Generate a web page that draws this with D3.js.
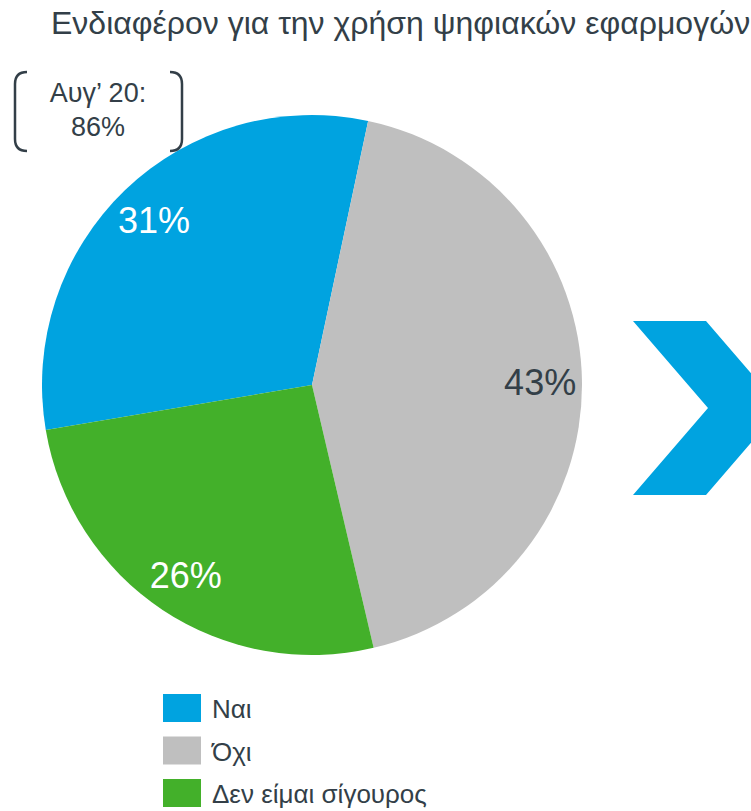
<!DOCTYPE html>
<html>
<head>
<meta charset="utf-8">
<script src="https://cdn.jsdelivr.net/npm/d3@7"></script>
<style>
  body { margin: 0; background: #fff; }
  text { font-family: "Liberation Sans", Arial, sans-serif; }
</style>
</head>
<body>
<svg id="chart"></svg>
<script>
const WIDTH = 751;
const HEIGHT = 811;

// Data.
const categories = ['Ναι', 'Όχι', 'Δεν είμαι σίγουρος'];
const values = [31, 43, 26];
const colors = ['#00a3e0', '#bfbfbf', '#43b02a'];
const labelColors = ['#ffffff', '#333f48', '#ffffff'];
const title = 'Ενδιαφέρον για την χρήση ψηφιακών εφαρμογών';
const noteLines = ['Αυγ’ 20:', '86%'];

const TEXT_COLOR = '#333f48';
const CX = 312;
const CY = 385;
const RADIUS = 270;

const svg = d3
  .select('#chart')
  .attr('width', WIDTH)
  .attr('height', HEIGHT)
  .attr('viewBox', `0 0 ${WIDTH} ${HEIGHT}`);

// Title.
svg
  .append('text')
  .attr('x', 51)
  .attr('y', 34)
  .attr('fill', TEXT_COLOR)
  .style('font-size', '32px')
  .text(title);

// Pie. The blue slice starts a bit left of nine o'clock.
const startAngle = (-99.6 * Math.PI) / 180;
const pie = d3
  .pie()
  .sort(null)
  .startAngle(startAngle)
  .endAngle(startAngle + 2 * Math.PI);

const arcs = pie(values);
const arc = d3.arc().innerRadius(0).outerRadius(RADIUS);
const labelArc = d3.arc().innerRadius(RADIUS * 0.845).outerRadius(RADIUS * 0.845);

const g = svg.append('g').attr('transform', `translate(${CX},${CY})`);

g.selectAll('path')
  .data(arcs)
  .enter()
  .append('path')
  .attr('d', arc)
  .attr('fill', (d, i) => colors[i]);

g.selectAll('text.pct')
  .data(arcs)
  .enter()
  .append('text')
  .attr('class', 'pct')
  .attr('transform', d => `translate(${labelArc.centroid(d)})`)
  .attr('text-anchor', 'middle')
  .attr('dy', '0.35em')
  .attr('fill', (d, i) => labelColors[i])
  .style('font-size', '36px')
  .text(d => d.data + '%');

// Bracketed note in the top-left corner.
const note = svg.append('g');
const bracket = d3.path();
// left bracket
bracket.moveTo(27, 72);
bracket.quadraticCurveTo(15, 72, 15, 84);
bracket.lineTo(15, 139);
bracket.quadraticCurveTo(15, 151, 27, 151);
// right bracket
bracket.moveTo(170, 72);
bracket.quadraticCurveTo(182, 72, 182, 84);
bracket.lineTo(182, 139);
bracket.quadraticCurveTo(182, 151, 170, 151);
note
  .append('path')
  .attr('d', bracket.toString())
  .attr('fill', 'none')
  .attr('stroke', TEXT_COLOR)
  .attr('stroke-width', 2.5);

note
  .selectAll('text')
  .data(noteLines)
  .enter()
  .append('text')
  .attr('x', 98)
  .attr('y', (d, i) => 102 + i * 34)
  .attr('text-anchor', 'middle')
  .attr('fill', TEXT_COLOR)
  .style('font-size', '27px')
  .text(d => d);

// Chevron on the right, cut off by the page edge.
const chevron = d3.path();
chevron.moveTo(633, 321);
chevron.lineTo(706, 321);
chevron.lineTo(781, 408);
chevron.lineTo(706, 495);
chevron.lineTo(633, 495);
chevron.lineTo(708, 408);
chevron.closePath();
svg.append('path').attr('d', chevron.toString()).attr('fill', colors[0]);

// Legend.
const legend = svg
  .append('g')
  .selectAll('g')
  .data(categories)
  .enter()
  .append('g')
  .attr('transform', (d, i) => `translate(163,${694 + i * 42.5})`);

legend
  .append('rect')
  .attr('width', 38)
  .attr('height', 28)
  .attr('fill', (d, i) => colors[i]);

legend
  .append('text')
  .attr('x', 49)
  .attr('y', 24)
  .attr('fill', TEXT_COLOR)
  .style('font-size', '26px')
  .text(d => d);
</script>
</body>
</html>
